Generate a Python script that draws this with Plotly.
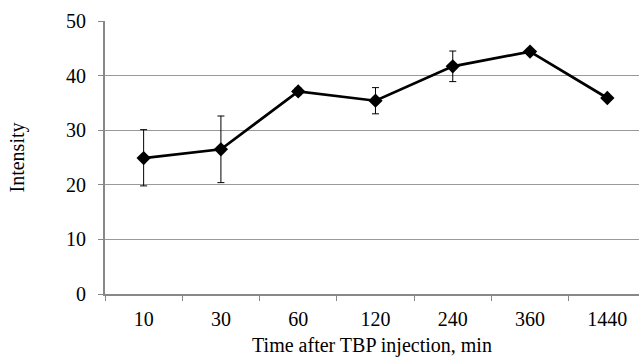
import plotly.graph_objects as go

categories = ["10", "30", "60", "120", "240", "360", "1440"]
intensity = [24.9, 26.5, 37.1, 35.4, 41.7, 44.4, 35.9]
err_plus = [5.2, 6.1, 0.6, 2.4, 2.8, 0.3, 0.2]
err_minus = [5.1, 6.1, 0.6, 2.4, 2.8, 0.3, 0.2]
y_ticks = [0, 10, 20, 30, 40, 50]

FONT = "Liberation Serif"

fig = go.Figure()
fig.add_trace(go.Scatter(
    x=categories, y=intensity,
    mode="lines+markers",
    line=dict(color="black", width=2.7),
    marker=dict(symbol="diamond", size=11, color="black"),
    error_y=dict(type="data", array=err_plus, arrayminus=err_minus,
                 color="black", thickness=1, width=3.5, visible=True),
    showlegend=False,
))

fig.update_layout(
    width=639, height=358,
    margin=dict(l=105, r=0, t=21, b=64),
    paper_bgcolor="white", plot_bgcolor="white",
    font=dict(family=FONT, size=20, color="black"),
)
fig.update_xaxes(
    type="category",
    range=[-0.5, 6.41],
    tickson="boundaries",
    ticks="outside", ticklen=5, tickcolor="#888888", tickwidth=1,
    showline=True, linecolor="#888888", linewidth=2,
    showgrid=False,
    ticklabelstandoff=6,
    tickfont=dict(family=FONT, size=20),
    title=dict(text="Time after TBP injection, min", font=dict(family=FONT, size=20), standoff=9),
)
fig.update_yaxes(
    range=[0, 50],
    tickvals=y_ticks,
    ticks="outside", ticklen=5, tickcolor="#888888", tickwidth=1,
    showline=True, linecolor="#888888", linewidth=2,
    showgrid=True, gridcolor="#999999", gridwidth=1,
    zeroline=False,
    ticklabelstandoff=8,
    tickfont=dict(family=FONT, size=20),
    title=dict(text="Intensity", font=dict(family=FONT, size=20), standoff=36),
)

fig.write_html("out.html")
